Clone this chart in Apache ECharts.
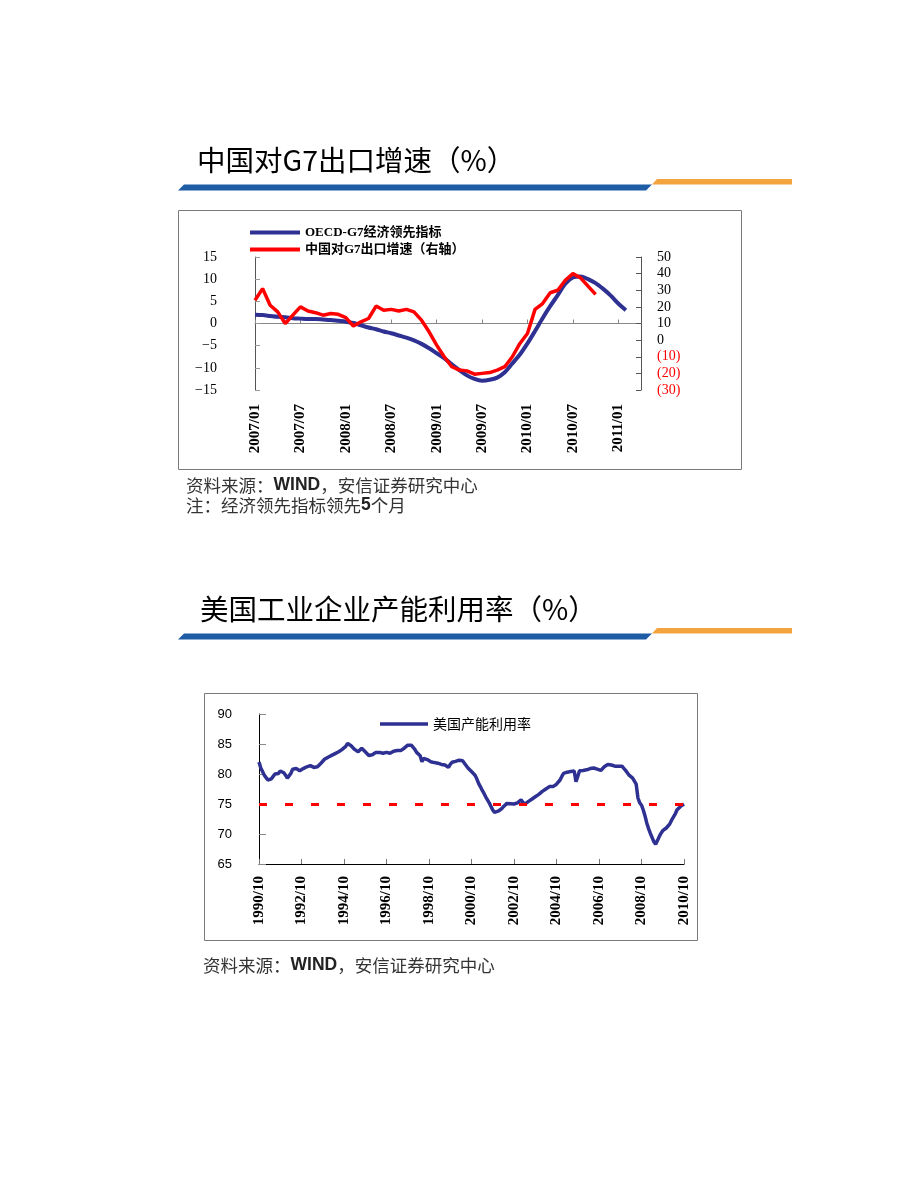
<!DOCTYPE html>
<html>
<head>
<meta charset="utf-8">
<script src="https://cdn.jsdelivr.net/npm/echarts@6/dist/echarts.min.js"></script>
<style>
html,body{margin:0;padding:0;background:#fff;}
#c{width:920px;height:1191px;}
</style>
</head>
<body>
<div id="c"></div>
<script>
// ---------- Chart 1 data: 中国对G7出口增速 ----------
const g7StartYear = 2007, g7StartMonth = 1, g7MonthCount = 52;   // 2007/01 .. 2011/04
const oecdLeading = [
  2.0, 1.9, 1.7, 1.5, 1.4, 1.2, 1.1, 1.0, 1.0, 0.9, 0.8, 0.6,
  0.4, 0.1, -0.4, -0.9, -1.3, -1.8, -2.2, -2.7, -3.2, -3.8, -4.6, -5.6,
  -6.7, -7.8, -9.2, -10.5, -11.7, -12.5, -12.9, -12.7, -12.2, -11.0, -9.0, -7.0,
  -4.5, -1.7, 1.2, 3.9, 6.4, 9.0, 10.4, 10.6, 10.0, 9.1, 7.8, 6.3,
  4.5, 3.0
];
const chinaExportG7 = [
  24, 31, 21, 17, 10, 15, 20, 17.5, 16.5, 15, 16, 15.5,
  13.5, 8.5, 11, 13, 20.5, 18, 18.5, 17.5, 18.5, 17, 12, 5,
  -3, -10, -16, -18, -18.5, -20.5, -20, -19.5, -18, -16, -10, -2,
  4, 18.5, 22, 28.5, 30, 36, 40, 37.5, 32.5, 27.5
];
const g7LeftAxis = { min: -15, max: 15, interval: 5 };
const g7RightAxis = { min: -30, max: 50, interval: 10 };
const g7SeriesNames = ['OECD-G7经济领先指标', '中国对G7出口增速（右轴）'];

// ---------- Chart 2 data: 美国工业企业产能利用率 ----------
const utilStartYear = 1990, utilStartMonth = 10, utilMonthCount = 241; // 1990/10 .. 2010/10
const usCapacityUtil = [
  82.0, 81.0, 80.4, 79.8, 79.4, 79.0, 78.7, 79.2, 79.6, 80.0, 80.1, 80.1,
  80.5, 80.7, 80.2, 79.8, 79.3, 79.6, 80.1, 80.8, 80.9, 80.9, 80.7, 80.55,
  80.7, 80.9, 81.2, 81.2, 81.3, 81.4, 81.3, 81.1, 81.1, 81.2, 81.5, 81.8,
  82.1, 82.45, 82.6, 82.8, 82.9, 83.1, 83.3, 83.4, 83.6, 83.7, 83.9, 84.1,
  84.3, 84.6, 85.1, 85.0, 84.7, 84.4, 84.1, 84.0, 83.7, 83.45, 84.3, 84.0,
  83.7, 83.4, 83.1, 82.9, 83.2, 83.45, 83.6, 83.7, 83.6, 83.5, 83.45, 83.5,
  83.6, 83.5, 83.45, 83.45, 83.8, 84.1, 83.9, 83.7, 83.9, 84.2, 84.3, 84.5,
  84.8, 84.95, 84.8, 84.55, 84.1, 83.6, 83.4, 83.05, 82.05, 82.6, 82.7, 82.4,
  82.2, 82.05, 81.9, 81.9, 81.8, 81.8, 81.7, 81.6, 81.6, 81.5, 81.5, 81.1,
  81.6, 81.95, 82.0, 82.1, 82.2, 82.3, 82.2, 82.2, 81.8, 81.5, 81.0, 80.7,
  80.4, 80.1, 79.8, 79.2, 78.45, 77.9, 77.3, 76.8, 76.2, 75.7, 75.2, 74.6,
  74.0, 73.6, 73.6, 73.8, 73.8, 74.2, 74.55, 74.8, 75.1, 75.1, 75.05, 75.0,
  75.0, 75.0, 75.2, 75.4, 75.7, 75.3, 74.95, 75.2, 75.4, 75.6, 75.8, 75.95,
  76.2, 76.4, 76.6, 76.9, 77.1, 77.3, 77.5, 77.7, 77.9, 77.6, 77.9, 78.1,
  78.3, 78.45, 79.0, 79.6, 80.1, 80.2, 80.3, 80.4, 80.4, 80.5, 80.5, 78.7,
  79.6, 80.55, 80.6, 80.6, 80.7, 80.7, 80.8, 80.9, 80.95, 81.0, 80.9, 80.8,
  80.7, 80.6, 80.9, 81.2, 81.4, 81.6, 81.65, 81.5, 81.4, 81.3, 81.3, 81.3,
  81.3, 81.3, 80.95, 80.6, 80.2, 79.8, 79.5, 79.3, 79.1, 78.3, 76.0, 75.2,
  74.8, 74.0, 73.0, 71.8, 70.9, 70.1, 69.4, 68.7, 68.3, 68.9, 69.55, 70.1,
  70.55, 70.8, 71.0, 71.2, 71.7, 72.3, 72.8, 73.3, 74.0, 74.3, 74.6, 74.8, 75.0
];
const utilReferenceLevel = 75;
const utilAxis = { min: 65, max: 90, interval: 5 };
const utilSeriesName = '美国产能利用率';

// ---------- texts ----------
const title1 = '中国对G7出口增速（%）';
const title2 = '美国工业企业产能利用率（%）';
const source1 = '资料来源：{b|WIND}，安信证券研究中心';
const note1 = '注：经济领先指标领先{b|5}个月';
const source2 = '资料来源：{b|WIND}，安信证券研究中心';

function monthLabels(y, m, count) {
  const out = [];
  for (let i = 0; i < count; i++) {
    out.push(y + '/' + (m < 10 ? '0' + m : '' + m));
    m++; if (m > 12) { m = 1; y++; }
  }
  return out;
}
const g7Categories = monthLabels(g7StartYear, g7StartMonth, g7MonthCount);
const utilCategories = monthLabels(utilStartYear, utilStartMonth, utilMonthCount);

const SERIF = '"Liberation Serif","Noto Sans CJK SC",serif';
const SANS = '"Liberation Sans","Noto Sans CJK SC",sans-serif';
const CJK = '"Noto Sans CJK SC",sans-serif';
const BLUE = '#2e3192';
const RED = '#ff0000';
const BAR_BLUE = '#1f5ca6';
const BAR_ORANGE = '#f3a43e';

function headerBar(y) {
  return [
    { type: 'polygon', silent: true,
      shape: { points: [[178, y + 6], [184, y], [652, y], [646, y + 6]] },
      style: { fill: BAR_BLUE } },
    { type: 'polygon', silent: true,
      shape: { points: [[652, y], [657, y - 5.5], [792, y - 5.5], [792, y]] },
      style: { fill: BAR_ORANGE } }
  ];
}

function noteText(x, y, text) {
  return { type: 'text', x: x, y: y, silent: true,
    style: { text: text, fontSize: 17.5, fontFamily: CJK, fill: '#333', verticalAlign: 'middle',
      rich: { b: { fontSize: 17.5, fontFamily: SANS, fontWeight: 'bold', fill: '#222' } } } };
}

const chart = echarts.init(document.getElementById('c'), null, { renderer: 'canvas' });
chart.setOption({
  animation: false,
  backgroundColor: '#fff',
  graphic: [
    { type: 'text', x: 197, y: 160, silent: true,
      style: { text: title1, fontSize: 28.5, fontFamily: CJK, fill: '#000', verticalAlign: 'middle' } },
    ...headerBar(184.5),
    { type: 'rect', silent: true, z: -1,
      shape: { x: 178.5, y: 210.5, width: 563, height: 259 },
      style: { fill: 'none', stroke: '#7a7a7a', lineWidth: 1 } },
    noteText(186, 485, source1),
    noteText(186, 505, note1),

    { type: 'text', x: 200, y: 609, silent: true,
      style: { text: title2, fontSize: 28.5, fontFamily: CJK, fill: '#000', verticalAlign: 'middle' } },
    ...headerBar(633.5),
    { type: 'rect', silent: true, z: -1,
      shape: { x: 204.5, y: 693.5, width: 493, height: 247 },
      style: { fill: 'none', stroke: '#7a7a7a', lineWidth: 1 } },
    noteText(203, 965, source2)
  ],
  legend: [
    { left: 245, top: 221, orient: 'vertical', icon: 'rect', itemWidth: 50, itemHeight: 4, itemGap: 4,
      data: g7SeriesNames, selectedMode: false,
      textStyle: { fontSize: 13, fontFamily: SERIF, fontWeight: 'bold', color: '#000' } },
    { left: 375, top: 712, orient: 'horizontal', icon: 'rect', itemWidth: 48, itemHeight: 3.5,
      data: [utilSeriesName], selectedMode: false,
      textStyle: { fontSize: 14, fontFamily: CJK, color: '#000' } }
  ],
  grid: [
    { left: 255, top: 257, width: 386, height: 133, outerBoundsMode: 'none' },
    { left: 259, top: 714, width: 425, height: 150, outerBoundsMode: 'none' }
  ],
  xAxis: [
    { gridIndex: 0, type: 'category', data: g7Categories, boundaryGap: false, position: 'bottom',
      axisLine: { show: false, onZero: false }, axisTick: { show: false }, splitLine: { show: false },
      axisLabel: { interval: 5, rotate: 90, margin: 14, fontSize: 15, fontFamily: SERIF, fontWeight: 'bold', color: '#000' } },
    { gridIndex: 0, type: 'category', data: g7Categories, boundaryGap: false, position: 'top',
      axisLine: { show: true, onZero: true, onZeroAxisIndex: 0, lineStyle: { color: '#888', width: 1 } },
      axisTick: { show: true, inside: false, interval: 5, length: 4, lineStyle: { color: '#888' } },
      axisLabel: { show: false }, splitLine: { show: false } },
    { gridIndex: 1, type: 'category', data: utilCategories, boundaryGap: false, position: 'bottom',
      axisLine: { show: true, onZero: false, lineStyle: { color: '#000', width: 1 } },
      axisTick: { show: true, inside: true, interval: 23, length: 5, lineStyle: { color: '#777' } },
      axisLabel: { interval: 23, rotate: 90, margin: 12, fontSize: 15, fontFamily: SERIF, fontWeight: 'bold', color: '#000' },
      splitLine: { show: false } }
  ],
  yAxis: [
    { gridIndex: 0, type: 'value', position: 'left', min: g7LeftAxis.min, max: g7LeftAxis.max, interval: g7LeftAxis.interval,
      axisLine: { show: true, lineStyle: { color: '#555', width: 1 } },
      axisTick: { show: true, inside: true, length: 5, lineStyle: { color: '#999' } },
      splitLine: { show: false },
      axisLabel: { margin: 38, fontSize: 14, fontFamily: SERIF, color: '#000',
        formatter: v => (v < 0 ? '\u2212' + (-v) : '' + v) } },
    { gridIndex: 0, type: 'value', position: 'right', min: g7RightAxis.min, max: g7RightAxis.max, interval: g7RightAxis.interval,
      axisLine: { show: true, lineStyle: { color: '#555', width: 1 } },
      axisTick: { show: true, inside: true, length: 5, lineStyle: { color: '#555' } },
      splitLine: { show: false },
      axisLabel: { margin: 16, fontSize: 14, fontFamily: SERIF, color: '#000',
        formatter: v => (v < 0 ? '{r|(' + (-v) + ')}' : '' + v),
        rich: { r: { color: RED, fontSize: 14, fontFamily: SERIF } } } },
    { gridIndex: 1, type: 'value', min: utilAxis.min, max: utilAxis.max, interval: utilAxis.interval,
      axisLine: { show: true, lineStyle: { color: '#000', width: 1 } },
      axisTick: { show: true, inside: true, length: 7, lineStyle: { color: '#888' } },
      splitLine: { show: false },
      axisLabel: { margin: 27, fontSize: 13, fontFamily: SANS, color: '#000' } }
  ],
  series: [
    { name: g7SeriesNames[0], type: 'line', xAxisIndex: 0, yAxisIndex: 0, data: oecdLeading,
      symbol: 'none', smooth: 0.3, lineStyle: { color: BLUE, width: 4 }, itemStyle: { color: BLUE } },
    { name: g7SeriesNames[1], type: 'line', xAxisIndex: 0, yAxisIndex: 1, data: chinaExportG7,
      symbol: 'none', lineStyle: { color: RED, width: 3.5 }, itemStyle: { color: RED } },
    { name: utilSeriesName, type: 'line', xAxisIndex: 2, yAxisIndex: 2, data: usCapacityUtil,
      symbol: 'none', lineStyle: { color: BLUE, width: 3.5 }, itemStyle: { color: BLUE },
      markLine: { silent: true, symbol: ['none', 'none'], label: { show: false },
        lineStyle: { color: RED, width: 3, type: [8, 18] },
        data: [{ yAxis: utilReferenceLevel }] } }
  ]
});
</script>
</body>
</html>
